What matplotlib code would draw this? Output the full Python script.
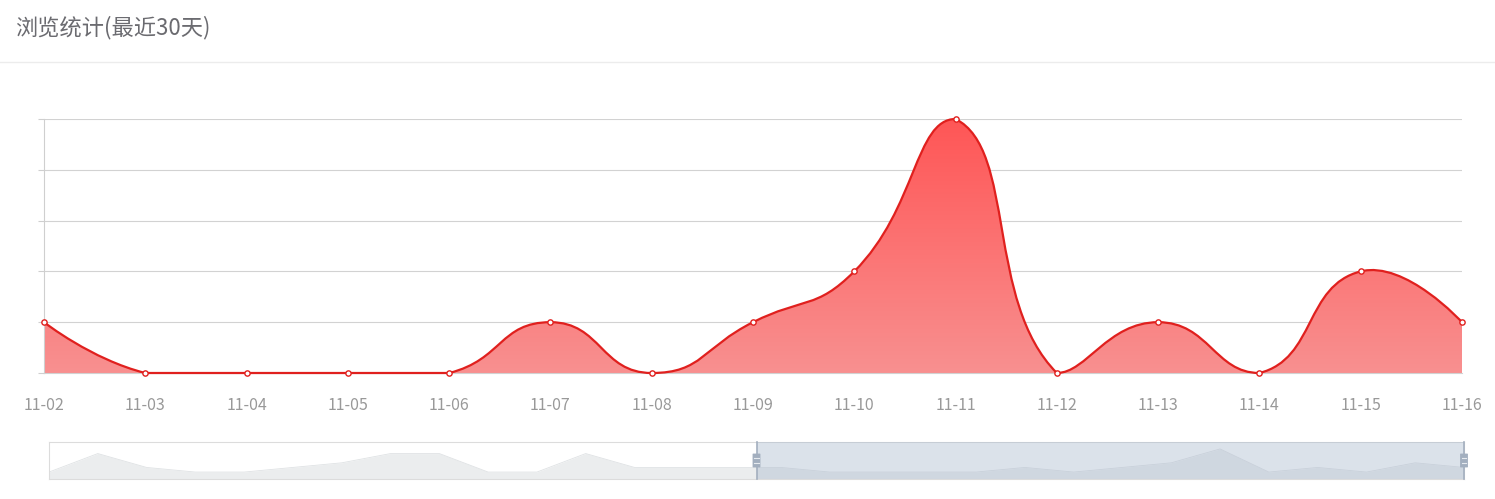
import numpy as np
import matplotlib
matplotlib.use("Agg")
import matplotlib.pyplot as plt
from matplotlib.path import Path
from matplotlib.patches import PathPatch, Rectangle, FancyBboxPatch
from matplotlib.lines import Line2D

plt.rcParams['font.family'] = ['Noto Sans CJK SC', 'DejaVu Sans']

# ---------------- data ----------------
title = "浏览统计(最近30天)"
dates = ["10-18", "10-19", "10-20", "10-21", "10-22", "10-23", "10-24", "10-25",
         "10-26", "10-27", "10-28", "10-29", "10-30", "10-31", "11-01", "11-02",
         "11-03", "11-04", "11-05", "11-06", "11-07", "11-08", "11-09", "11-10",
         "11-11", "11-12", "11-13", "11-14", "11-15", "11-16"]
views = [0, 4, 1, 0, 0, 1, 2, 4, 4, 0, 0, 4, 1, 1, 1,
         1, 0, 0, 0, 0, 1, 0, 1, 2, 5, 0, 1, 0, 2, 1]
zoom_start = 15   # first visible category (dataZoom 50%-100%)

vis_dates = dates[zoom_start:]
vis_views = views[zoom_start:]

# ---------------- figure ----------------
W, H = 1495, 499
fig = plt.figure(figsize=(W / 100, H / 100), dpi=100)
fig.patch.set_facecolor("white")

fig.text(15 / W, 1 - 28 / H, title, fontsize=16, color="#6b6b70",
         ha="left", va="center")
fig.add_artist(Line2D([0, 1], [1 - 62 / H, 1 - 62 / H], transform=fig.transFigure,
                      color="#ececec", lw=1))

# ---------------- main chart ----------------
L, R, T, B = 44, 1462, 119, 373
ax = fig.add_axes([L / W, 1 - B / H, (R - L) / W, (B - T) / H])
n = len(vis_views)
ymax = 5
ax.set_xlim(0, n - 1)
ax.set_ylim(0, ymax)
ax.set_axisbelow(True)

# ECharts-4 style smooth bezier (computed in pixel space, global box constraint)
sx = (R - L) / (n - 1)
sy = (B - T) / ymax
pts = np.array([[i * sx, v * sy] for i, v in enumerate(vis_views)])
smooth = 0.5
pmin = pts.min(axis=0)
pmax = pts.max(axis=0)
cps = []
for i in range(n):
    p = pts[i]
    if i == 0 or i == n - 1:
        cps.append(p.copy())
        continue
    prv, nxt = pts[i - 1], pts[i + 1]
    v = (nxt - prv) * smooth
    d0 = np.hypot(*(p - prv))
    d1 = np.hypot(*(p - nxt))
    s = d0 + d1
    if s != 0:
        d0 /= s
        d1 /= s
    c0 = np.clip(p - v * d0, pmin, pmax)
    c1 = np.clip(p + v * d1, pmin, pmax)
    cps.append(c0)
    cps.append(c1)

verts = [pts[0]]
codes = [Path.MOVETO]
for i in range(n - 1):
    verts += [cps[2 * i], cps[2 * i + 1], pts[i + 1]]
    codes += [Path.CURVE4] * 3
verts = np.array(verts) / np.array([sx, sy])

line_path = Path(verts, codes)
fill_verts = np.vstack([verts, [[n - 1, 0], [0, 0], [0, 0]]])
fill_codes = codes + [Path.LINETO, Path.LINETO, Path.CLOSEPOLY]
fill_path = Path(fill_verts, fill_codes)

patch = PathPatch(fill_path, facecolor="none", edgecolor="none")
ax.add_patch(patch)
top_c = np.array([255, 86, 86]) / 255
bot_c = np.array([248, 144, 144]) / 255
t = np.linspace(1, 0, 256)[:, None]
grad = (top_c[None, :] * t + bot_c[None, :] * (1 - t))[:, None, :]
im = ax.imshow(grad, extent=[0, n - 1, 0, ymax], aspect="auto",
               origin="upper", zorder=2, interpolation="bilinear")
im.set_clip_path(patch)

ax.add_patch(PathPatch(line_path, facecolor="none", edgecolor="#e0201e",
                       lw=1.6, zorder=3, clip_on=False))
ax.plot(range(n), vis_views, linestyle="none", marker="o", markersize=3.8,
        markerfacecolor="white", markeredgecolor="#e0201e", markeredgewidth=1,
        zorder=4, clip_on=False)

ax.set_yticks(range(ymax + 1))
ax.set_yticklabels([])
ax.yaxis.grid(True, color="#d2d2d2", lw=0.8)
ax.set_xticks(range(n))
ax.set_xticklabels(vis_dates)
ax.tick_params(axis="x", length=0, pad=17, labelsize=11.5, labelcolor="#999999")
ax.tick_params(axis="y", length=4, width=0.8, color="#cfcfcf")
for s in ["top", "right"]:
    ax.spines[s].set_visible(False)
ax.spines["left"].set_color("#cfcfcf")
ax.spines["left"].set_linewidth(0.8)
ax.spines["bottom"].set_color("#d2d2d2")
ax.spines["bottom"].set_linewidth(0.8)
ax.set_facecolor("none")

# ---------------- dataZoom slider ----------------
SL, SR, ST, SB = 49, 1464, 442, 479
sax = fig.add_axes([SL / W, 1 - SB / H, (SR - SL) / W, (SB - ST) / H])
N = len(views)
vmax = max(views)
off = vmax * 0.3
sax.set_xlim(0, N - 1)
sax.set_ylim(-off, vmax + off)
sax.fill_between(range(N), views, -off, color="#ebedee", lw=0, zorder=1)
sax.plot(range(N), views, color="#dfe2e4", lw=0.6, zorder=2)
sel0 = zoom_start - 0.5
sax.axvspan(sel0, N - 1, color=(167 / 255, 183 / 255, 204 / 255), alpha=0.4,
            lw=0, zorder=3)
sax.set_xticks([])
sax.set_yticks([])
for s in sax.spines.values():
    s.set_color("#dcdcdc")
    s.set_linewidth(0.8)

ux = (N - 1) / (SR - SL)          # data units per pixel (x)
uy = (vmax + 2 * off) / (SB - ST)  # data units per pixel (y)
for hx in [sel0, N - 1]:
    sax.add_line(Line2D([hx, hx], [-off, vmax + off], color="#a3afbf", lw=1.2,
                        zorder=5, clip_on=False))
    ry0 = vmax + off - (467 - ST) * uy
    rh = 13 * uy
    sax.add_patch(FancyBboxPatch((hx - 3.5 * ux, ry0), 7 * ux, rh,
                                 boxstyle="round,pad=0", facecolor="#a3afbf",
                                 edgecolor="#a3afbf", lw=0.6, zorder=6,
                                 clip_on=False))
    for yy in [458, 463]:
        yv = vmax + off - (yy - ST) * uy
        sax.add_line(Line2D([hx - 2.2 * ux, hx + 2.2 * ux], [yv, yv],
                            color="#e6eaef", lw=0.8, zorder=7, clip_on=False))

fig.savefig("out.png", dpi=100, facecolor="white")
